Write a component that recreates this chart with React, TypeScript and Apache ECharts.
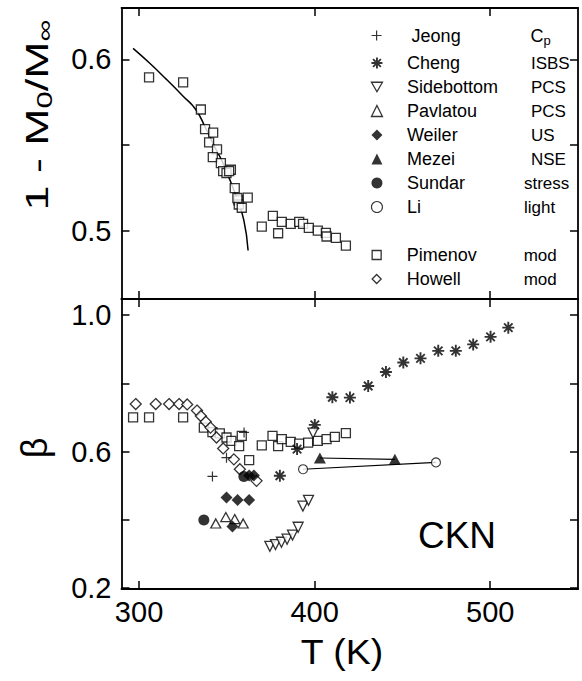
import React, { useEffect, useRef } from "react";
import * as echarts from "echarts";

const FONT = "'Liberation Sans', Arial, Helvetica, sans-serif";

// axis ticks / labels
const X_TICKS = [300, 400, 500];
const TOP_Y_TICKS = [0.5, 0.55, 0.6];
const TOP_Y_LABELS = [0.5, 0.6];
const BOT_Y_TICKS = [0.2, 0.4, 0.6, 0.8, 1.0];
const BOT_Y_LABELS = [0.2, 0.6, 1.0];

// ---- top panel: 1 - M0/Minf ----
const pimenovTop: [number, number][] = [
  [305.7, 0.5895], [325.1, 0.5865], [335.2, 0.5707], [337.6, 0.5592], [342.2, 0.5572],
  [339.9, 0.5515], [344.4, 0.5474], [342.0, 0.5429], [346.6, 0.5394], [347.9, 0.5347],
  [352.3, 0.5355], [349.8, 0.5336], [351.3, 0.5347], [354.5, 0.5248], [356.6, 0.5176],
  [356.8, 0.5152], [358.5, 0.5133], [361.9, 0.5192], [356.0, 0.519],
  [369.9, 0.5023], [376.2, 0.5086], [379.2, 0.4984], [381.3, 0.5051], [386.4, 0.5039],
  [391.2, 0.5051], [393.4, 0.5039], [396.7, 0.5016], [401.8, 0.5], [406.4, 0.4986],
  [406.8, 0.4965], [412.1, 0.4957], [417.8, 0.4912],
];
const fitCurve: [number, number][] = [
  [296.6, 0.6064], [306.1, 0.5977], [315.6, 0.5883], [325.1, 0.5785], [332.3, 0.5707],
  [337.6, 0.5605], [343.1, 0.5488], [347.9, 0.5391], [355.5, 0.5195], [359.7, 0.5059],
  [362.1, 0.4883],
];

// ---- bottom panel: beta ----
const jeong: [number, number][] = [[341.8, 0.527], [349.8, 0.582], [359.8, 0.656]];
const cheng: [number, number][] = [
  [380.2, 0.529], [390.0, 0.607], [400.1, 0.678], [410.1, 0.759], [420.1, 0.758],
  [430.5, 0.792], [440.6, 0.833], [450.5, 0.861], [460.3, 0.873], [470.4, 0.895],
  [480.4, 0.895], [490.3, 0.914], [500.2, 0.936], [510.3, 0.963],
];
const sidebottom: [number, number][] = [
  [374.5, 0.322], [377.7, 0.327], [381.1, 0.334], [384.3, 0.343], [387.4, 0.355],
  [390.6, 0.378], [393.3, 0.44], [396.5, 0.457], [399.1, 0.654],
];
const pavlatou: [number, number][] = [[343.7, 0.389], [349.4, 0.408], [354.5, 0.402], [359.3, 0.389]];
const weiler: [number, number][] = [
  [349.8, 0.465], [356.1, 0.458], [362.7, 0.458], [353.2, 0.38], [362.7, 0.53], [365.4, 0.53],
];
const mezei: [number, number][] = [[403.0, 0.581], [445.7, 0.577]];
const sundar: [number, number][] = [[336.9, 0.399], [359.7, 0.527]];
const li: [number, number][] = [[393.4, 0.548], [469.1, 0.568]];
const pimenovBottom: [number, number][] = [
  [296.6, 0.70], [305.7, 0.70], [325.1, 0.70], [336.9, 0.67], [341.8, 0.657], [346.0, 0.653],
  [349.8, 0.641], [352.6, 0.631], [357.0, 0.616], [358.5, 0.646], [362.7, 0.575], [369.9, 0.618],
  [376.0, 0.646], [379.2, 0.616], [381.3, 0.636], [386.4, 0.628], [391.2, 0.623], [396.3, 0.626],
  [401.8, 0.631], [406.8, 0.636], [411.5, 0.643], [417.8, 0.654],
];
const howell: [number, number][] = [
  [298.1, 0.739], [309.5, 0.739], [317.1, 0.739], [322.8, 0.739], [327.4, 0.738], [333.0, 0.72],
  [335.2, 0.704], [338.0, 0.687], [340.7, 0.67], [344.1, 0.641], [347.9, 0.609], [354.0, 0.577],
  [357.4, 0.548], [366.9, 0.514],
];

// legend texts
const legendNamesA = ["Jeong"];
const legendNamesB = ["Cheng", "Sidebottom", "Pavlatou", "Weiler", "Mezei", "Sundar", "Li"];
const legendNamesC = ["Pimenov", "Howell"];
const methods: Record<string, string> = {
  Jeong: "Cp",
  Cheng: "ISBS",
  Sidebottom: "PCS",
  Pavlatou: "PCS",
  Weiler: "US",
  Mezei: "NSE",
  Sundar: "stress",
  Li: "light",
  Pimenov: "mod",
  Howell: "mod",
};

const PLUS = "path://M5,0L5,10M0,5L10,5";
const ASTERISK = "path://M5,0L5,10M0,5L10,5M1.46,1.46L8.54,8.54M8.54,1.46L1.46,8.54";
const DOWN_TRI = "path://M0,0L10,0L5,8.66Z";

const openStyle = { color: "#fff", borderColor: "#000", borderWidth: 1.3 };
const fillStyle = { color: "#000", borderColor: "#000", borderWidth: 0 };
const strokeStyle = (w: number) => ({ color: "#000", borderColor: "#000", borderWidth: w });

const markerDefs: Record<string, { symbol: string; size: number | number[]; itemStyle: any }> = {
  Jeong: { symbol: PLUS, size: 10, itemStyle: strokeStyle(1.2) },
  Cheng: { symbol: ASTERISK, size: 12, itemStyle: strokeStyle(1.9) },
  Sidebottom: { symbol: DOWN_TRI, size: 10, itemStyle: openStyle },
  Pavlatou: { symbol: "triangle", size: [10, 9], itemStyle: openStyle },
  Weiler: { symbol: "diamond", size: 12, itemStyle: fillStyle },
  Mezei: { symbol: "triangle", size: [12, 11], itemStyle: fillStyle },
  Sundar: { symbol: "circle", size: 11, itemStyle: fillStyle },
  Li: { symbol: "circle", size: 9, itemStyle: { color: "#fff", borderColor: "#000", borderWidth: 1.1 } },
  Pimenov: { symbol: "rect", size: 9, itemStyle: openStyle },
  Howell: { symbol: "diamond", size: 11, itemStyle: openStyle },
};

const axisLineStyle = { color: "#000", width: 1.8 };
const tickStyle = { color: "#000", width: 1.5 };

function xAxisDef(gridIndex: number, position: "top" | "bottom", labels: boolean) {
  return {
    type: "value",
    gridIndex,
    position,
    min: 290,
    max: 550,
    splitLine: { show: false },
    axisLine: { show: true, onZero: false, lineStyle: axisLineStyle },
    axisTick: { show: true, inside: true, length: 8, customValues: X_TICKS, lineStyle: tickStyle },
    axisLabel: {
      show: labels,
      customValues: X_TICKS,
      color: "#000",
      fontSize: 29,
      fontFamily: FONT,
      margin: 8,
      formatter: (v: number) => String(v),
    },
  };
}

function yAxisDef(
  gridIndex: number,
  position: "left" | "right",
  min: number,
  max: number,
  ticks: number[],
  labels: number[] | null
) {
  return {
    type: "value",
    gridIndex,
    position,
    min,
    max,
    splitLine: { show: false },
    axisLine: { show: true, onZero: false, lineStyle: axisLineStyle },
    axisTick: { show: true, inside: true, length: 8, customValues: ticks, lineStyle: tickStyle },
    axisLabel: {
      show: !!labels,
      customValues: labels || ticks,
      color: "#000",
      fontSize: 29,
      fontFamily: FONT,
      margin: 10,
      formatter: (v: number) => v.toFixed(1),
    },
  };
}

function scatter(name: string, data: [number, number][], xi: number, yi: number) {
  const d = markerDefs[name];
  return {
    type: "scatter",
    name,
    data,
    xAxisIndex: xi,
    yAxisIndex: yi,
    symbol: d.symbol,
    symbolSize: d.size,
    itemStyle: d.itemStyle,
    z: 5,
  };
}

function plainLine(name: string, data: [number, number][], xi: number, yi: number, width: number, smooth: boolean) {
  return {
    type: "line",
    name,
    data,
    xAxisIndex: xi,
    yAxisIndex: yi,
    symbol: "none",
    smooth,
    lineStyle: { color: "#000", width },
    z: 3,
  };
}

const legendRich = {
  s: { width: 19, fontSize: 18, fontFamily: FONT, color: "#000" },
  a: { width: 117, fontSize: 18, fontFamily: FONT, color: "#000", lineHeight: 20 },
  b: { fontSize: 17, fontFamily: FONT, color: "#000", lineHeight: 20 },
  d: { fontSize: 17, fontFamily: FONT, color: "#000", lineHeight: 20, padding: [0, 0, 0, 7] },
  c: { fontSize: 18, fontFamily: FONT, color: "#000", lineHeight: 20, padding: [0, 0, 0, 7] },
  p: { fontSize: 13, fontFamily: FONT, color: "#000", lineHeight: 13, padding: [10, 0, 0, 0] },
};

function legendFormatter(name: string) {
  const m = methods[name];
  if (m === "Cp") return `{s| }{a| ${name}}{c|C}{p|p}`;
  const style = m === m.toUpperCase() ? "d" : "b";
  return `{s| }{a|${name}}{${style}|${m}}`;
}

function legendDef(names: string[], top: number, icon: number) {
  const gap = (12 - icon) / 2;
  return {
    orient: "vertical",
    left: 370 + gap,
    top,
    padding: 0,
    itemWidth: icon,
    itemHeight: icon,
    itemGap: 4,
    selectedMode: false,
    formatter: legendFormatter,
    textStyle: {
      color: "#000",
      fontSize: 18,
      fontFamily: FONT,
      lineHeight: 20,
      rich: { ...legendRich, s: { ...legendRich.s, width: 19 + gap } },
    },
    data: names.map((n) => ({
      name: n,
      icon: markerDefs[n].symbol,
      itemStyle: markerDefs[n].itemStyle,
    })),
  };
}

export default function App() {
  const ref = useRef<HTMLDivElement>(null);
  useEffect(() => {
    if (!ref.current) return;
    const chart = echarts.init(ref.current, undefined, { renderer: "svg" });
    chart.setOption({
      animation: false,
      backgroundColor: "#fff",
      grid: [
        { left: 121.5, right: 4, top: 8, height: 291 },
        { left: 121.5, right: 4, top: 299, height: 290 },
      ],
      xAxis: [
        xAxisDef(0, "bottom", false),
        xAxisDef(0, "top", false),
        xAxisDef(1, "bottom", true),
        xAxisDef(1, "top", false),
      ],
      yAxis: [
        yAxisDef(0, "left", 0.46, 0.63, TOP_Y_TICKS, TOP_Y_LABELS),
        yAxisDef(0, "right", 0.46, 0.63, TOP_Y_TICKS, null),
        yAxisDef(1, "left", 0.197, 1.047, BOT_Y_TICKS, BOT_Y_LABELS),
        yAxisDef(1, "right", 0.197, 1.047, BOT_Y_TICKS, null),
      ],
      legend: [
        legendDef(legendNamesA, 24, 10),
        legendDef(legendNamesB, 53, 11),
        legendDef(legendNamesC, 245, 9),
      ],
      graphic: [
        {
          type: "text",
          x: 37,
          y: 115,
          rotation: Math.PI / 2,
          scaleX: 1.4,
          style: {
            text: "{m|1 - M}{s|0}{m|/M}{s|∞}",
            align: "center",
            verticalAlign: "middle",
            rich: {
              m: { fontSize: 32, fontFamily: FONT, fill: "#000", lineHeight: 34 },
              s: { fontSize: 22, fontFamily: FONT, fill: "#000", lineHeight: 22, padding: [16, 0, 0, 0] },
            },
          },
        },
        {
          type: "text",
          x: 34,
          y: 448,
          rotation: Math.PI / 2,
          style: { text: "β", fontSize: 36, fontFamily: FONT, fill: "#000", align: "center", verticalAlign: "middle" },
        },
        {
          type: "text",
          x: 342,
          y: 652,
          scaleX: 1.07,
          style: { text: "T (K)", fontSize: 35, fontFamily: FONT, fill: "#000", align: "center", verticalAlign: "middle" },
        },
        {
          type: "text",
          x: 457,
          y: 535,
          style: { text: "CKN", fontSize: 37, fontFamily: FONT, fill: "#000", align: "center", verticalAlign: "middle" },
        },
      ],
      series: [
        plainLine("fit", fitCurve, 0, 0, 1.5, true),
        scatter("Pimenov", pimenovTop, 0, 0),
        plainLine("Mezei line", mezei, 2, 2, 1.2, false),
        plainLine("Li line", li, 2, 2, 1.1, false),
        scatter("Pimenov", pimenovBottom, 2, 2),
        scatter("Howell", howell, 2, 2),
        scatter("Jeong", jeong, 2, 2),
        scatter("Cheng", cheng, 2, 2),
        scatter("Sidebottom", sidebottom, 2, 2),
        scatter("Pavlatou", pavlatou, 2, 2),
        scatter("Weiler", weiler, 2, 2),
        scatter("Mezei", mezei, 2, 2),
        scatter("Sundar", sundar, 2, 2),
        scatter("Li", li, 2, 2),
      ],
    });
    return () => chart.dispose();
  }, []);
  return (
    <div
      ref={ref}
      style={{ position: "absolute", left: 0, top: 0, width: 582, height: 681, background: "#fff" }}
    />
  );
}
